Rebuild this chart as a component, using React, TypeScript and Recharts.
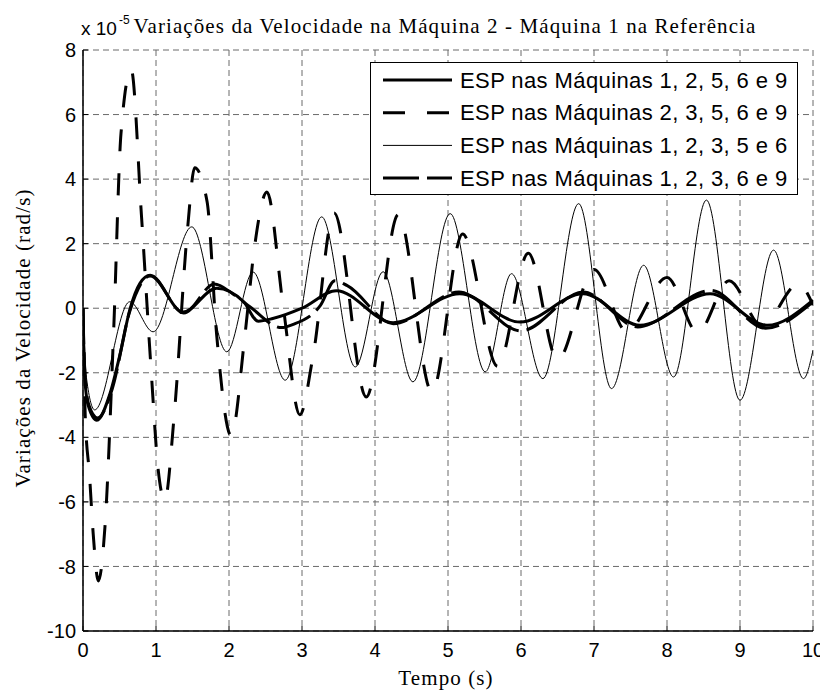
import React from 'react';
import { LineChart, Line, XAxis, YAxis, CartesianGrid, Legend } from 'recharts';

// ---- axis ticks ----
const xTicks = [0, 1, 2, 3, 4, 5, 6, 7, 8, 9, 10];
const yTicks = [-10, -8, -6, -4, -2, 0, 2, 4, 6, 8];

// ---- series names ----
const seriesNames = [
  'ESP nas Máquinas 1, 2, 5, 6 e 9',
  'ESP nas Máquinas 2, 3, 5, 6 e 9',
  'ESP nas Máquinas 1, 2, 3, 5 e 6',
  'ESP nas Máquinas 1, 2, 3, 6 e 9',
];

// ---- series 1 (thick solid) : time (s), velocity (x1e-5 rad/s) ----
const s1Time = [0, 0.02, 0.07, 0.19, 0.37, 0.51, 0.64, 0.78, 0.92, 1.37, 1.83, 2.2, 2.4, 2.6, 3.0, 3.47, 4.25, 5.16, 5.99, 6.85, 7.63, 8.59, 9.37, 10];
const s1Vel = [0, -2.0, -3.0, -3.47, -2.64, -1.4, -0.06, 0.77, 1.02, -0.12, 0.62, 0.2, -0.4, -0.32, 0.0, 0.54, -0.45, 0.45, -0.43, 0.45, -0.53, 0.45, -0.53, 0.25];

// ---- series 2 (thick dashed, large oscillation) ----
const s2Time = [0, 0.03, 0.09, 0.14, 0.21, 0.3, 0.42, 0.52, 0.66, 0.8, 0.93, 1.03, 1.12, 1.25, 1.43, 1.53, 1.7, 1.83, 2.03, 2.22, 2.35, 2.52, 2.74, 2.97, 3.15, 3.44, 3.88, 4.32, 4.78, 5.2, 5.68, 6.1, 6.5, 7.0, 7.45, 8.0, 8.42, 8.85, 9.3, 9.8, 10];
const s2Vel = [0, -3.3, -5.2, -7.0, -8.45, -6.8, -0.7, 5.4, 7.4, 2.9, -1.8, -5.0, -5.95, -3.3, 2.4, 4.35, 3.3, -0.8, -3.95, -0.8, 1.9, 3.6, 0.1, -3.3, -1.5, 2.95, -2.75, 2.9, -2.6, 2.3, -1.8, 1.7, -1.6, 1.2, -0.72, 0.95, -0.75, 0.85, -0.55, 0.75, 0.1];

// ---- series 3 (thin solid) ----
const s3Time = [0, 0.05, 0.16, 0.64, 0.96, 1.49, 1.97, 2.33, 2.77, 3.27, 3.73, 4.11, 4.52, 5.03, 5.51, 5.87, 6.3, 6.79, 7.24, 7.68, 8.09, 8.54, 9.0, 9.46, 9.87, 10];
const s3Vel = [0, -2.2, -3.15, 0.2, -0.73, 2.52, -1.35, 1.12, -2.23, 2.83, -1.82, 1.13, -2.28, 2.93, -1.97, 1.07, -2.18, 3.24, -2.49, 1.33, -2.13, 3.35, -2.85, 1.8, -2.18, -1.3];

// ---- series 4 (thick long dash) ----
const s4Time = [0, 0.02, 0.08, 0.2, 0.4, 0.64, 0.92, 1.38, 1.8, 2.05, 2.3, 2.72, 2.88, 3.25, 3.45, 3.62, 4.25, 5.15, 6.0, 6.85, 7.6, 8.6, 9.35, 10];
const s4Vel = [0, -1.8, -3.0, -3.4, -2.5, -0.1, 1.0, -0.15, 0.75, 0.45, 0.02, -0.6, -0.5, 0.08, 0.85, 0.7, -0.48, 0.5, -0.7, 0.5, -0.58, 0.55, -0.62, 0.2];

const toPoints = (t: number[], v: number[]) => t.map((x, i) => ({ t: x, v: v[i] }));

const series = [
  { name: seriesNames[0], data: toPoints(s1Time, s1Vel), width: 3, dash: undefined as string | undefined },
  { name: seriesNames[1], data: toPoints(s2Time, s2Vel), width: 3, dash: '22 22' },
  { name: seriesNames[2], data: toPoints(s3Time, s3Vel), width: 1, dash: undefined as string | undefined },
  { name: seriesNames[3], data: toPoints(s4Time, s4Vel), width: 3, dash: '36 8' },
];

const SANS = "'Liberation Sans', Arial, sans-serif";
const SERIF = "'Liberation Serif', 'Times New Roman', serif";

const W = 820;
const H = 687;

const renderLegend = () => (
  <svg width={428} height={133} style={{ display: 'block' }}>
    <rect x={0.5} y={0.5} width={427} height={132} fill="#fff" stroke="#000" strokeWidth={1} />
    {series.map((s, i) => {
      const y = 18 + i * 32.7;
      return (
        <g key={s.name}>
          <line x1={13} x2={82} y1={y} y2={y} stroke="#000" strokeWidth={s.width} strokeDasharray={s.dash} />
          <text x={90} y={y} dominantBaseline="central" fontFamily={SANS} fontSize={22} letterSpacing={0.4} fill="#000">
            {s.name}
          </text>
        </g>
      );
    })}
  </svg>
);

const emptyTick = () => <g />;

export default function App() {
  return (
    <div style={{ position: 'relative', width: W, height: H }}>
      <LineChart width={W} height={H} margin={{ top: 42, right: 15, bottom: 14, left: 15 }}>
        <CartesianGrid stroke="#6a6a6a" strokeDasharray="6 4" strokeWidth={1} />
        <XAxis
          dataKey="t"
          type="number"
          domain={[0, 10]}
          ticks={xTicks}
          interval={0}
          height={50}
          tickSize={-5}
          tickMargin={17}
          axisLine={{ stroke: '#000', strokeWidth: 1.5 }}
          tickLine={{ stroke: '#000' }}
          tick={{ fill: '#000', fontSize: 20, fontFamily: SANS }}
          allowDataOverflow
        />
        <XAxis
          xAxisId="top"
          orientation="top"
          type="number"
          domain={[0, 10]}
          ticks={xTicks}
          interval={0}
          height={0}
          tickSize={-5}
          axisLine={{ stroke: '#000', strokeWidth: 1 }}
          tickLine={{ stroke: '#000' }}
          tick={emptyTick}
          allowDataOverflow
        />
        <YAxis
          type="number"
          domain={[-10, 8]}
          ticks={yTicks}
          interval={0}
          width={60}
          tickSize={-5}
          tickMargin={12}
          axisLine={{ stroke: '#000', strokeWidth: 1.5 }}
          tickLine={{ stroke: '#000' }}
          tick={{ fill: '#000', fontSize: 20, fontFamily: SANS }}
          allowDataOverflow
        />
        <YAxis
          yAxisId="right"
          orientation="right"
          type="number"
          domain={[-10, 8]}
          ticks={yTicks}
          interval={0}
          width={0}
          tickSize={-5}
          axisLine={{ stroke: '#000', strokeWidth: 1 }}
          tickLine={{ stroke: '#000' }}
          tick={emptyTick}
          allowDataOverflow
        />
        {series.map((s) => (
          <Line
            key={s.name}
            data={s.data}
            dataKey="v"
            name={s.name}
            type="monotone"
            stroke="#000"
            strokeWidth={s.width}
            strokeDasharray={s.dash}
            dot={false}
            activeDot={false}
            isAnimationActive={false}
          />
        ))}
        <Legend
          layout="vertical"
          align="center"
          verticalAlign="middle"
          content={renderLegend}
          wrapperStyle={{ left: 362, top: 54, width: 428, height: 133 }}
        />
      </LineChart>
      <svg
        width={W}
        height={H}
        style={{ position: 'absolute', left: 0, top: 0, pointerEvents: 'none' }}
      >
        <text x={73} y={27} fontFamily={SANS} fontSize={19} fill="#000">x 10</text>
        <text x={111} y={16} fontFamily={SANS} fontSize={12} fill="#000">-5</text>
        <text x={437} y={25} textAnchor="middle" fontFamily={SERIF} fontSize={21} letterSpacing={1.1} fill="#000">
          Variações da Velocidade na Máquina 2 - Máquina 1 na Referência
        </text>
        <text x={438} y={677} textAnchor="middle" fontFamily={SERIF} fontSize={21} letterSpacing={1.1} fill="#000">
          Tempo (s)
        </text>
        <text
          transform="translate(22,330) rotate(-90)"
          textAnchor="middle"
          fontFamily={SERIF}
          fontSize={21}
          letterSpacing={1.1}
          fill="#000"
        >
          Variações da Velocidade (rad/s)
        </text>
      </svg>
    </div>
  );
}
